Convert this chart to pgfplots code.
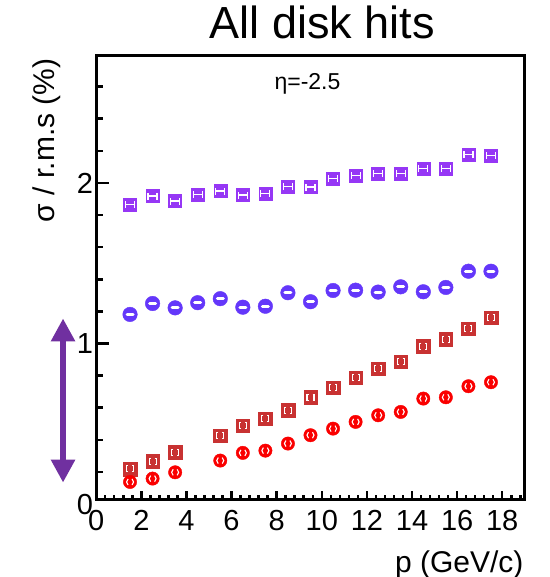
\documentclass[border=0pt]{standalone}
\usepackage{pgfplots}
\pgfplotsset{compat=1.18}
\usepackage{pgfplotstable}
\usepackage{fontspec}
\setmainfont{Liberation Sans}
\usetikzlibrary{arrows.meta}
\definecolor{cpurp}{RGB}{150,55,245}
\definecolor{cblue}{RGB}{100,55,250}
\definecolor{cbrick}{RGB}{200,50,50}
\definecolor{cred}{RGB}{250,0,0}
\definecolor{carrow}{RGB}{112,48,160}

% white error-bar glyphs drawn inside the markers
\pgfdeclareplotmark{Hbar}{%
  \pgfpathmoveto{\pgfqpoint{-4.5pt}{0pt}}\pgfpathlineto{\pgfqpoint{4.5pt}{0pt}}%
  \pgfpathmoveto{\pgfqpoint{-4.5pt}{-3.5pt}}\pgfpathlineto{\pgfqpoint{-4.5pt}{3.5pt}}%
  \pgfpathmoveto{\pgfqpoint{4.5pt}{-3.5pt}}\pgfpathlineto{\pgfqpoint{4.5pt}{3.5pt}}%
  \pgfusepathqstroke}
\pgfdeclareplotmark{Dbar}{%
  \pgfpathmoveto{\pgfqpoint{-3pt}{0pt}}\pgfpathlineto{\pgfqpoint{3pt}{0pt}}%
  \pgfusepathqstroke}
\pgfdeclareplotmark{Brk}{%
  \pgfpathmoveto{\pgfqpoint{-2pt}{3pt}}\pgfpathlineto{\pgfqpoint{-3.5pt}{3pt}}%
  \pgfpathlineto{\pgfqpoint{-3.5pt}{-3pt}}\pgfpathlineto{\pgfqpoint{-2pt}{-3pt}}%
  \pgfpathmoveto{\pgfqpoint{2pt}{3pt}}\pgfpathlineto{\pgfqpoint{3.5pt}{3pt}}%
  \pgfpathlineto{\pgfqpoint{3.5pt}{-3pt}}\pgfpathlineto{\pgfqpoint{2pt}{-3pt}}%
  \pgfusepathqstroke}
\pgfdeclareplotmark{Par}{%
  \pgfpathmoveto{\pgfqpoint{-2pt}{3pt}}\pgfpathcurveto{\pgfqpoint{-4pt}{1.5pt}}{\pgfqpoint{-4pt}{-1.5pt}}{\pgfqpoint{-2pt}{-3pt}}%
  \pgfpathmoveto{\pgfqpoint{2pt}{3pt}}\pgfpathcurveto{\pgfqpoint{4pt}{1.5pt}}{\pgfqpoint{4pt}{-1.5pt}}{\pgfqpoint{2pt}{-3pt}}%
  \pgfusepathqstroke}

\pgfplotstableread{
x y
1.5 1.866
2.5 1.918
3.5 1.887
4.5 1.928
5.5 1.949
6.5 1.924
7.5 1.935
8.5 1.976
9.5 1.974
10.5 2.026
11.5 2.047
12.5 2.057
13.5 2.057
14.5 2.088
15.5 2.088
16.5 2.178
17.5 2.171
}\purp

\pgfplotstableread{
x y
1.5 1.181
2.5 1.249
3.5 1.222
4.5 1.254
5.5 1.279
6.5 1.226
7.5 1.232
8.5 1.316
9.5 1.260
10.5 1.330
11.5 1.332
12.5 1.320
13.5 1.353
14.5 1.322
15.5 1.349
16.5 1.450
17.5 1.450
}\blu

\pgfplotstableread{
x y
1.5 0.219
2.5 0.267
3.5 0.323
5.5 0.427
6.5 0.489
7.5 0.531
8.5 0.583
9.5 0.665
10.5 0.724
11.5 0.786
12.5 0.842
13.5 0.886
14.5 0.983
15.5 1.025
16.5 1.093
17.5 1.160
}\brick

\pgfplotstableread{
x y
1.5 0.138
2.5 0.159
3.5 0.198
5.5 0.271
6.5 0.319
7.5 0.333
8.5 0.377
9.5 0.429
10.5 0.470
11.5 0.512
12.5 0.553
13.5 0.574
14.5 0.657
15.5 0.665
16.5 0.734
17.5 0.759
}\redc

\begin{document}
\begin{tikzpicture}
\useasboundingbox (-96.2pt,-77.7pt) rectangle (452.8pt,499.3pt);
\begin{axis}[
  scale only axis, width=428.6pt, height=443.3pt,
  at={(0pt,0pt)}, anchor=south west,
  xmin=0, xmax=19, ymin=0.03, ymax=2.79,
  axis line style={line width=3pt},
  tick align=inside, tick pos=left,
  xtick={0,2,...,18}, ytick={1,2},
  minor xtick={0.4,0.8,...,18.8},
  minor ytick={0.2,0.4,0.6,0.8,1.2,1.4,1.6,1.8,2.2,2.4,2.6},
  every tick/.style={black, line width=2.5pt},
  xtick style={/pgfplots/major tick length=8pt, /pgfplots/minor tick length=4pt},
  ytick style={/pgfplots/major tick length=13pt, /pgfplots/minor tick length=6.5pt},
  tick label style={font=\fontsize{29}{29}\selectfont},
  xticklabel style={inner sep=0pt, yshift=-11pt},
  yticklabel style={inner sep=3pt},
  /pgf/number format/assume math mode=true,
  clip=false,
]
\addplot[only marks, mark=square*, mark size=6.5pt, color=cpurp] table {\purp};
\addplot[only marks, mark=*, mark size=7.3pt, color=cblue] table {\blu};
\addplot[only marks, mark=square*, mark size=6.8pt, color=cbrick] table {\brick};
\addplot[only marks, mark=*, mark size=6.7pt, color=cred] table {\redc};

\addplot[only marks, forget plot, mark=Hbar, mark options={draw=white, line width=1.2pt}] table {\purp};
\addplot[only marks, forget plot, mark=Dbar, mark options={draw=white, line width=3pt, line cap=round}] table {\blu};
\addplot[only marks, forget plot, mark=Brk, mark options={draw=white, line width=1.1pt}] table {\brick};
\addplot[only marks, forget plot, mark=Par, mark options={draw=white, line width=1.1pt}] table {\redc};

\node[anchor=east, inner sep=3pt, font=\fontsize{29}{29}\selectfont] at (axis cs:0,0) {0};
\draw[carrow, line width=6pt, {Triangle[width=23pt,length=23pt]}-{Triangle[width=23pt,length=23pt]}]
  (axis cs:-1.47,1.156) -- (axis cs:-1.47,0.134);
\end{axis}
\node[anchor=base, font=\fontsize{45}{45}\selectfont] at (226.3pt,460.3pt) {All disk hits};
\node[anchor=base, font=\fontsize{23}{23}\selectfont] at (211.3pt,409.3pt) {η=-2.5};
\node[anchor=base east, font=\fontsize{30}{30}\selectfont] at (430.8pt,-72.7pt) {p (GeV/c)};
\node[anchor=base east, rotate=90, font=\fontsize{30}{30}\selectfont] at (-41.2pt,444.3pt) {σ / r.m.s (\%)};
\end{tikzpicture}
\end{document}
